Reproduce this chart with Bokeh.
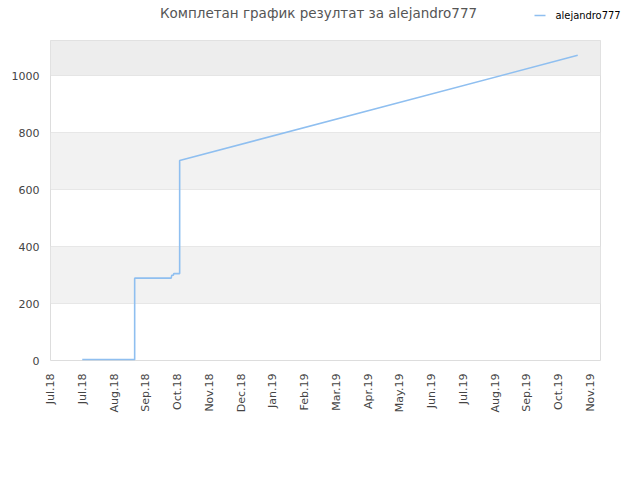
from bokeh.plotting import figure
from bokeh.layouts import column
from bokeh.models import Range1d, FixedTicker, BoxAnnotation
from bokeh.core.properties import value
from bokeh.embed import file_html
from bokeh.resources import INLINE

# ---- data (x = days after the first tick, y = score) ----
days = [30, 79.5, 79.5, 114, 114.5, 116, 116.5, 122, 122, 498]
score = [3, 3, 289, 289, 299, 299, 305, 305, 702, 1071]

tick_days = [0, 30, 60, 90, 120, 150, 180, 210, 240, 270, 300, 330, 360, 390, 420, 450, 480, 510]
tick_labels = ["Jul.18", "Jul.18", "Aug.18", "Sep.18", "Oct.18", "Nov.18", "Dec.18", "Jan.19",
               "Feb.19", "Mar.19", "Apr.19", "May.19", "Jun.19", "Jul.19", "Aug.19", "Sep.19",
               "Oct.19", "Nov.19"]
y_ticks = [0, 200, 400, 600, 800, 1000]

title_text = "Комплетан график резултат за alejandro777"
series_name = "alejandro777"

FONT = "DejaVu Sans"
LINE_COLOR = "#8fbff0"
W = 632

# ---- header (title + legend) ----
head = figure(width=W, height=40, output_backend="svg", toolbar_location=None,
              x_range=Range1d(0, W), y_range=Range1d(40, 0), title_location=None,
              x_axis_location=None, y_axis_location=None,
              min_border=0, min_border_left=0, min_border_right=0,
              min_border_top=0, min_border_bottom=0, outline_line_color=None)
head.frame_align = False
head.grid.visible = False
head.text(x=[318], y=[12], text=[title_text], text_align="center", text_baseline="middle",
          text_font=value(FONT), text_font_size="13.5px", text_color="#555555")
head.line(x=[534, 545], y=[15, 15], line_color=LINE_COLOR, line_width=1.6)
head.text(x=[555], y=[15], text=[series_name], text_align="left", text_baseline="middle",
          text_font=value("DejaVu Sans Condensed"), text_font_size="11px", text_color="#000000")

# ---- main chart ----
p = figure(width=W, height=424, output_backend="svg", toolbar_location=None,
           x_range=Range1d(0, 519.5), y_range=Range1d(0, 1123), title_location=None,
           min_border_left=50, min_border_right=W - 600, min_border_top=0, min_border_bottom=104)
p.frame_align = False

p.add_layout(BoxAnnotation(bottom=200, top=400, fill_color="#f2f2f2", fill_alpha=1, line_alpha=0, level="underlay"))
p.add_layout(BoxAnnotation(bottom=600, top=800, fill_color="#f2f2f2", fill_alpha=1, line_alpha=0, level="underlay"))
p.add_layout(BoxAnnotation(bottom=1000, fill_color="#ededed", fill_alpha=1, line_alpha=0, level="underlay"))

p.line(days, score, line_color=LINE_COLOR, line_width=1.6)

p.outline_line_color = "#dddddd"
p.outline_line_width = 1

p.xgrid.visible = False
p.ygrid.ticker = FixedTicker(ticks=y_ticks)
p.ygrid.grid_line_color = "#dddddd"

p.xaxis.ticker = FixedTicker(ticks=tick_days)
p.xaxis.major_label_overrides = {d: l for d, l in zip(tick_days, tick_labels)}
p.xaxis.major_label_orientation = 1.5708
p.yaxis.ticker = FixedTicker(ticks=y_ticks)

for ax in (p.xaxis[0], p.yaxis[0]):
    ax.axis_line_color = None
    ax.major_tick_line_color = None
    ax.minor_tick_line_color = None
    ax.major_label_text_font = FONT
    ax.major_label_text_font_size = "11px"
    ax.major_label_text_color = "#444444"
p.xaxis.major_label_standoff = 7
p.yaxis.major_label_standoff = 5

layout = column(head, p, spacing=0)
open("out.html", "w").write(file_html(layout, INLINE))
